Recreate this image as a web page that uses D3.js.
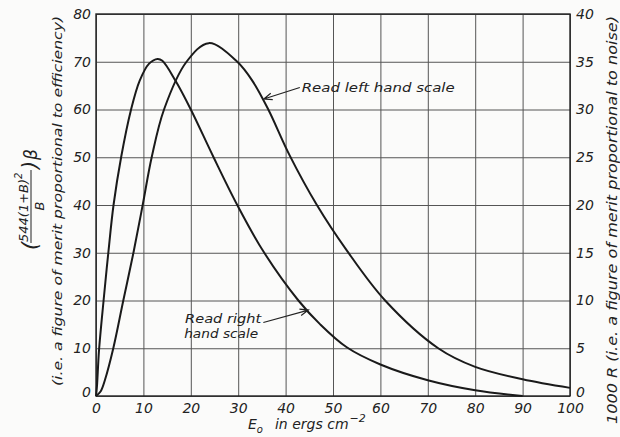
<!DOCTYPE html>
<html>
<head>
<meta charset="utf-8">
<script src="https://cdn.jsdelivr.net/npm/d3@7"></script>
<style>
  body { margin: 0; background: #fbfbfa; }
  svg text { font-family: "DejaVu Sans", sans-serif; font-style: italic; fill: #222; }
</style>
</head>
<body>
<div id="chart"></div>
<script>
// Chart size and plot box.
var width = 620;
var height = 437;
var m = { top: 14, right: 50, bottom: 41, left: 96 };

// Tick values.
var xTicks = [0, 10, 20, 30, 40, 50, 60, 70, 80, 90, 100];
var leftTicks = [0, 10, 20, 30, 40, 50, 60, 70, 80];
var rightTicks = [0, 5, 10, 15, 20, 25, 30, 35, 40];

// Curve read on the right hand scale (1000 R).
var noiseE = [0, 0.2, 0.63, 1.6, 2.6, 3.7, 5.3, 7.4, 9.2, 11.2, 13.0, 14.0, 16.9, 20, 24.8, 29.8, 35.3, 42.7, 47.3, 52.9, 60, 70, 80, 90];
var noiseR = [0, 1, 4.75, 10, 15, 20, 25, 30, 33, 34.8, 35.3, 35.1, 32.9, 30, 25, 20, 15.15, 10, 7.5, 5.1, 3.3, 1.65, 0.6, 0];

// Curve read on the left hand scale (efficiency).
var effE = [0, 1, 1.9, 3.65, 5.76, 7.9, 9.85, 11.75, 14.35, 19.1, 23.8, 29.8, 33, 36.35, 40.8, 46.6, 52.9, 61, 72.2, 80, 90, 100];
var effL = [0, 1, 3.4, 10, 20, 30, 40, 50, 60, 70, 73.9, 70, 66, 60, 50.5, 40, 30.5, 20, 10, 6.1, 3.5, 1.7];

var svg = d3.select("#chart").append("svg")
  .attr("width", width)
  .attr("height", height);

var x = d3.scaleLinear().domain([0, 100]).range([m.left, width - m.right]);
var yL = d3.scaleLinear().domain([0, 80]).range([height - m.bottom, m.top]);
var yR = d3.scaleLinear().domain([0, 40]).range([height - m.bottom, m.top]);

var plotW = width - m.right - m.left;
var plotH = height - m.bottom - m.top;

// Bottom axis with vertical grid lines.
var gx = svg.append("g")
  .attr("transform", "translate(0," + (height - m.bottom) + ")")
  .call(d3.axisBottom(x).tickValues(xTicks).tickSize(-plotH).tickPadding(7));

// Left axis with horizontal grid lines.
var gy = svg.append("g")
  .attr("transform", "translate(" + m.left + ",0)")
  .call(d3.axisLeft(yL).tickValues(leftTicks).tickSize(-plotW).tickPadding(5));

// Right axis, labels only.
var gr = svg.append("g")
  .attr("transform", "translate(" + (width - m.right) + ",0)")
  .call(d3.axisRight(yR).tickValues(rightTicks).tickSize(0).tickPadding(6));

[gx, gy, gr].forEach(function(g) {
  g.select(".domain").remove();
  g.selectAll(".tick line").attr("stroke", "#555").attr("stroke-width", 1);
  g.selectAll(".tick text").style("font-size", "14px").attr("fill", "#222");
});
// the zero labels sit a little above the bottom line
gy.selectAll(".tick text").filter(function(d) { return d === 0; }).attr("y", -4);
gr.selectAll(".tick text").filter(function(d) { return d === 0; }).attr("y", -4);

// Frame.
svg.append("rect")
  .attr("x", m.left).attr("y", m.top)
  .attr("width", plotW).attr("height", plotH)
  .attr("fill", "none").attr("stroke", "#222").attr("stroke-width", 1.4);

// Curves.
var noiseLine = d3.line()
  .x(function(d, i) { return x(noiseE[i]); })
  .y(function(d) { return yR(d); })
  .curve(d3.curveCatmullRom.alpha(0.5));

var effLine = d3.line()
  .x(function(d, i) { return x(effE[i]); })
  .y(function(d) { return yL(d); })
  .curve(d3.curveCatmullRom.alpha(0.5));

svg.append("path").attr("d", noiseLine(noiseR))
  .attr("fill", "none").attr("stroke", "#1a1a1a").attr("stroke-width", 2);
svg.append("path").attr("d", effLine(effL))
  .attr("fill", "none").attr("stroke", "#1a1a1a").attr("stroke-width", 2);

// Arrow with an open head.
function arrow(x0, y0, x1, y1) {
  var a = Math.atan2(y1 - y0, x1 - x0), h = 9, s = 0.38;
  var p = "M" + x0 + "," + y0 + "L" + x1 + "," + y1 +
    "M" + (x1 - h * Math.cos(a - s)) + "," + (y1 - h * Math.sin(a - s)) +
    "L" + x1 + "," + y1 +
    "L" + (x1 - h * Math.cos(a + s)) + "," + (y1 - h * Math.sin(a + s));
  svg.append("path").attr("d", p)
    .attr("fill", "none").attr("stroke", "#222").attr("stroke-width", 1.2);
}

// Annotations.
svg.append("text")
  .attr("x", x(43.4)).attr("y", yL(63.7))
  .attr("textLength", 153).attr("lengthAdjust", "spacingAndGlyphs")
  .style("font-size", "13px")
  .text("Read left hand scale");
arrow(x(43.0), yL(64.6), x(35.4), yL(62.2));

svg.append("text")
  .attr("x", x(18.8)).attr("y", yL(15.2))
  .attr("textLength", 76).attr("lengthAdjust", "spacingAndGlyphs")
  .style("font-size", "13px")
  .text("Read right");
svg.append("text")
  .attr("x", x(18.6)).attr("y", yL(12.1))
  .attr("textLength", 74).attr("lengthAdjust", "spacingAndGlyphs")
  .style("font-size", "13px")
  .text("hand scale");
arrow(x(35.3), yL(15.4), x(44.8), yL(18.0));

// X axis title.
var xt = svg.append("text")
  .attr("x", 248).attr("y", 429)
  .style("font-size", "14px");
xt.append("tspan").text("E");
xt.append("tspan").attr("dy", 4).style("font-size", "10px").text("o");
xt.append("tspan").attr("dy", -4).attr("dx", 12).text("in  ergs  cm");
xt.append("tspan").attr("dy", -7).attr("dx", 1).style("font-size", "11px").text("\u22122");

// Left outer title.
svg.append("text")
  .attr("transform", "translate(62,201) rotate(-90)")
  .attr("text-anchor", "middle")
  .attr("textLength", 370).attr("lengthAdjust", "spacingAndGlyphs")
  .style("font-size", "13px")
  .text("(i.e. a figure of merit proportional to efficiency)");

// Formula (rotated).
var f = svg.append("g").attr("transform", "translate(31,188) rotate(-90)");
f.append("text").attr("x", -62).attr("y", 6).style("font-size", "21px").text("(");
var num = f.append("text").attr("x", -54).attr("y", -3).style("font-size", "13px");
num.append("tspan").text("544(1+B)");
num.append("tspan").attr("dy", -6).style("font-size", "10px").text("2");
f.append("line").attr("x1", -55).attr("x2", 18).attr("y1", 0).attr("y2", 0)
  .attr("stroke", "#222").attr("stroke-width", 1);
f.append("text").attr("x", -18).attr("y", 13).attr("text-anchor", "middle")
  .style("font-size", "13px").text("B");
f.append("text").attr("x", 19).attr("y", 6).style("font-size", "21px").text(")");
f.append("text").attr("x", 28).attr("y", 6).style("font-size", "17px").text("\u03b2");

// Right title.
svg.append("text")
  .attr("transform", "translate(617,220) rotate(-90)")
  .attr("text-anchor", "middle")
  .attr("textLength", 408).attr("lengthAdjust", "spacingAndGlyphs")
  .style("font-size", "14px")
  .text("1000 R  (i.e. a figure of merit proportional to noise)");
</script>
</body>
</html>
